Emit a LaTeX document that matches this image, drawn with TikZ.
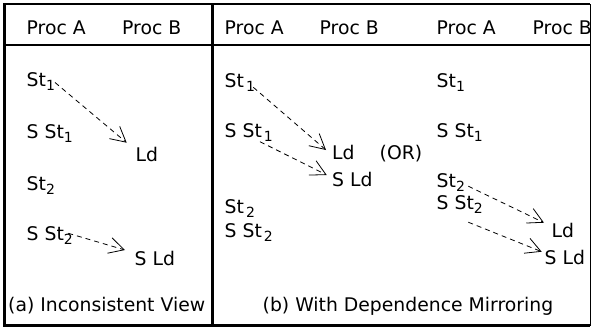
\documentclass[tikz,border=0pt]{standalone}
\usepackage{fontspec}
\setmainfont{DejaVu Sans}
\usetikzlibrary{arrows.meta}
% lowered index digit, kept out of the line's height and depth
\newcommand\lowsub[1]{\raisebox{-4pt}[0pt][0pt]{\fontsize{14}{14}\selectfont #1}}
\tikzset{
  lbl/.style={anchor=base west, inner sep=0pt, font=\fontsize{18.8}{21}\selectfont},
  frame/.style={line width=2.5pt},
  dep/.style={line width=0.8pt, dash pattern=on 5pt off 4pt,
    -{Straight Barb[length=15pt,width=16pt,line width=0.8pt]}}
}
\begin{document}
\begin{tikzpicture}[x=1pt,y=-1pt]
\useasboundingbox (0,0) rectangle (592,327);
% frame and dividers
\draw[frame] (590,4) -- (4.7,4) -- (4.7,325.5) -- (590,325.5);
\draw[line width=1.3pt] (590.3,4) -- (590.3,325.5);
\draw[frame] (4.7,45) -- (590.3,45);
\draw[frame] (212.7,4) -- (212.7,325.5);

% headers
\node[lbl] (ha) at (26.5,34) {Proc A};
\node[lbl] (hb) at (122,34) {Proc B};
\node[lbl] (hc) at (224.5,34) {Proc A};
\node[lbl] (hd) at (319.5,34) {Proc B};
\node[lbl] (he) at (436.5,34) {Proc A};
\node[lbl] (hf) at (532.5,34) {Proc B};

% (a) inconsistent view
\node[lbl] (a1) at (26.5,86) {St\lowsub{1}};
\node[lbl] (a2) at (26.5,138.5) {S St\lowsub{1}};
\node[lbl] (a3) at (135.5,161.5) {Ld};
\node[lbl] (a4) at (26.5,190) {St\lowsub{2}};
\node[lbl] (a5) at (26.5,240) {S St\lowsub{2}};
\node[lbl] (a6) at (134.5,265) {S Ld};
\node[lbl] (capa) at (8,311) {(a) Inconsistent View};
\coordinate (a1s) at (55,82.5);
\coordinate (a3t) at (126.7,142.7);
\coordinate (a5s) at (68.3,233.3);
\coordinate (a6t) at (125,250);
\draw[dep] (a1s) -- (a3t);
\draw[dep] (a5s) -- (a6t);

% (b) with dependence mirroring, first ordering
\node[lbl] (b1) at (224.5,87) {St\kern2pt\lowsub{1}};
\node[lbl] (b2) at (224.5,137) {S St\kern2pt\lowsub{1}};
\node[lbl] (b3) at (332,159.5) {Ld};
\node[lbl] (or) at (379.5,159.5) {(OR)};
\node[lbl] (b4) at (332,186) {S Ld};
\node[lbl] (b5) at (224.5,213.5) {St\kern2pt\lowsub{2}};
\node[lbl] (b6) at (224.5,237.5) {S St\kern2pt\lowsub{2}};
\coordinate (b1s) at (253.3,87.3);
\coordinate (b3t) at (326,150);
\coordinate (b2s) at (260,141.7);
\coordinate (b4t) at (326.7,175);
\draw[dep] (b1s) -- (b3t);
\draw[dep] (b2s) -- (b4t);

% (b) second ordering
\node[lbl] (c1) at (436.5,87) {St\lowsub{1}};
\node[lbl] (c2) at (436.5,137) {S St\lowsub{1}};
\node[lbl] (c3) at (436.5,187) {St\lowsub{2}};
\node[lbl] (c4) at (436.5,209.5) {S St\lowsub{2}};
\node[lbl] (c5) at (551.5,237.5) {Ld};
\node[lbl] (c6) at (544.5,264) {S Ld};
\coordinate (c3s) at (468.3,186.2);
\coordinate (c5t) at (544,222.7);
\coordinate (c4s) at (468.3,222.2);
\coordinate (c6t) at (541.7,251.7);
\draw[dep] (c3s) -- (c5t);
\draw[dep] (c4s) -- (c6t);

\node[lbl] (capb) at (262.5,311) {(b) With Dependence Mirroring};
\end{tikzpicture}
\end{document}
